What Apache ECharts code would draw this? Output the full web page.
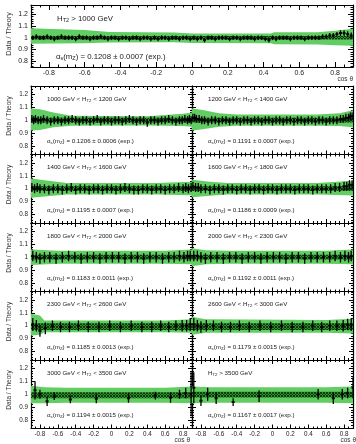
<!DOCTYPE html>
<html>
<head>
<meta charset="utf-8">
<script src="https://cdn.jsdelivr.net/npm/echarts@6/dist/echarts.min.js"></script>
<style>
  html, body { margin: 0; padding: 0; background: #fff; }
  #chart { width: 356px; height: 444px; }
</style>
</head>
<body>
<div id="chart"></div>
<script>
// ---- labels ----
var htLow  = [1000, 1000, 1200, 1400, 1600, 1800, 2000, 2300, 2600, 3000, 3500];
var htHigh = [null, 1200, 1400, 1600, 1800, 2000, 2300, 2600, 3000, 3500, null];
var alphaVal = ['0.1208', '0.1206', '0.1191', '0.1195', '0.1186', '0.1183', '0.1192', '0.1185', '0.1179', '0.1194', '0.1167'];
var alphaErr = ['0.0007', '0.0006', '0.0007', '0.0007', '0.0009', '0.0011', '0.0011', '0.0013', '0.0015', '0.0015', '0.0017'];

// ---- data: bin centres, data/theory ratio, stat error ----
// band nodes are [x, low, high] of the theory uncertainty

// H_T2 > 1000 GeV
var all_x = [-0.89,-0.87,-0.85,-0.83,-0.81,-0.79,-0.77,-0.75,-0.73,-0.71,-0.69,-0.67,-0.65,-0.63,-0.61,-0.59,-0.57,-0.55,-0.53,-0.51,
  -0.49,-0.47,-0.45,-0.43,-0.41,-0.39,-0.37,-0.35,-0.33,-0.31,-0.29,-0.27,-0.25,-0.23,-0.21,-0.19,-0.17,-0.15,-0.13,-0.11,
  -0.09,-0.07,-0.05,-0.03,-0.01,0.01,0.03,0.05,0.07,0.09,0.11,0.13,0.15,0.17,0.19,0.21,0.23,0.25,0.27,0.29,
  0.31,0.33,0.35,0.37,0.39,0.41,0.43,0.45,0.47,0.49,0.51,0.53,0.55,0.57,0.59,0.61,0.63,0.65,0.67,0.69,
  0.71,0.73,0.75,0.77,0.79,0.81,0.83,0.85,0.87,0.89];
var all_y = [1.00,1.01,1.00,1.00,1.01,1.00,0.99,1.00,1.01,1.00, 1.00,1.00,0.99,1.01,1.00,1.00,0.99,1.00,1.00,1.01,
  1.00,0.99,1.00,1.00,0.99,1.00,1.00,0.99,1.00,1.00, 0.99,1.00,1.00,0.99,1.00,0.99,1.00,1.00,0.99,1.00,
  1.00,0.99,1.00,1.00,0.99,1.00,0.99,1.00,0.98,1.00, 1.00,0.99,1.00,1.00,1.00,0.99,1.00,1.00,0.99,1.00,
  1.00,1.00,0.99,1.00,1.00,0.99,0.98,1.00,0.99,1.00, 1.00,1.00,0.99,1.00,1.00,1.00,0.99,1.00,1.00,1.00,
  1.00,1.01,1.01,1.02,1.02,1.03,1.04,1.04,1.03,1.02];
var all_err = [0.02,0.02,0.02,0.02,0.02,0.02,0.02,0.02,0.02,0.02, 0.02,0.02,0.02,0.02,0.02,0.02,0.02,0.02,0.02,0.02,
  0.02,0.02,0.02,0.02,0.02,0.02,0.02,0.02,0.02,0.02, 0.02,0.02,0.02,0.02,0.02,0.02,0.02,0.02,0.02,0.02,
  0.02,0.02,0.02,0.02,0.02,0.02,0.02,0.02,0.02,0.02, 0.02,0.02,0.02,0.02,0.02,0.02,0.02,0.02,0.02,0.02,
  0.02,0.02,0.02,0.02,0.02,0.02,0.02,0.02,0.02,0.02, 0.02,0.02,0.02,0.02,0.02,0.02,0.02,0.02,0.02,0.02,
  0.02,0.02,0.02,0.02,0.02,0.02,0.025,0.025,0.025,0.025];
var all_band = [[-0.9,0.949,1.082],[-0.78,0.95,1.075],[-0.6,0.952,1.066],[-0.46,0.96,1.05],[-0.1,0.962,1.045],[0.0,0.955,1.036],
  [0.44,0.954,1.036],[0.46,0.945,1.046],[0.7,0.942,1.048],[0.8,0.936,1.06],[0.9,0.932,1.077]];
var all_hatch = [[-0.9,0.985,1.015],[0.9,0.985,1.015]];

// 1000 < H_T2 < 1200
var r1_x = [-0.89,-0.87,-0.85,-0.82,-0.79,-0.76,-0.72,-0.68,-0.64,-0.60,-0.56,-0.52,-0.48,-0.44,-0.40,-0.36,-0.32,-0.28,-0.24,-0.20,-0.16,-0.12,-0.08,-0.04,
  0.00,0.04,0.08,0.12,0.16,0.20,0.24,0.28,0.32,0.36,0.40,0.44,0.48,0.52,0.56,0.60,0.64,0.68,0.72,0.76,0.79,0.82,0.85,0.87,0.89];
var h1_y = [1.01,1.00,1.01,1.00,1.00,1.01,1.00,0.99,1.00,1.00,0.99,1.00,1.00,1.01,1.00,0.99,1.00,1.00,0.99,1.00,1.01,0.99,1.00,1.00,
  0.99,1.00,1.00,0.99,1.00,1.01,1.00,0.99,1.00,1.00,0.98,1.00,1.00,0.99,1.00,1.00,1.01,1.00,0.99,1.00,1.00,1.01,1.00,1.01,1.00];
var h1_err = [0.03,0.03,0.03,0.03,0.03,0.03,0.03,0.03,0.03,0.03,0.03,0.03,0.03,0.03,0.03,0.03,0.03,0.03,0.03,0.03,0.03,0.03,0.03,0.03,
  0.03,0.03,0.03,0.03,0.03,0.03,0.03,0.03,0.03,0.03,0.03,0.03,0.03,0.03,0.03,0.03,0.03,0.03,0.03,0.03,0.03,0.03,0.03,0.03,0.03];
var h1_band = [[-0.9,0.92,1.09],[-0.8,0.925,1.085],[-0.65,0.945,1.06],[-0.45,0.958,1.035],[0.4,0.96,1.03],[0.6,0.958,1.04],[0.8,0.955,1.05],[0.9,0.95,1.06]];
// 1200 < H_T2 < 1400
var h2_y = [1.02,1.02,1.01,1.01,1.00,1.00,0.99,1.00,1.00,0.99,1.00,1.00,0.99,1.00,1.00,0.99,1.00,1.00,0.99,1.00,1.00,0.99,1.00,1.00,
  0.99,1.00,1.00,0.99,1.00,1.00,0.99,1.00,1.00,0.99,1.00,1.00,0.99,1.00,1.00,0.99,1.00,1.00,1.00,1.01,1.01,1.02,1.02,1.03,1.03];
var h2_band = [[-0.9,0.92,1.09],[-0.78,0.93,1.08],[-0.6,0.95,1.055],[-0.4,0.958,1.045],[0.5,0.958,1.045],[0.75,0.955,1.055],[0.9,0.945,1.077]];

// 1400 < H_T2 < 1600 and 1600 < H_T2 < 1800
var r2_x = [-0.89,-0.86,-0.83,-0.80,-0.75,-0.70,-0.65,-0.60,-0.55,-0.50,-0.45,-0.40,-0.35,-0.30,-0.25,-0.20,-0.15,-0.10,-0.05,
  0.00,0.05,0.10,0.15,0.20,0.25,0.30,0.35,0.40,0.45,0.50,0.55,0.60,0.65,0.70,0.75,0.80,0.83,0.86,0.89];
var h3_y = [1.01,1.00,1.01,1.00,1.00,0.99,1.00,1.00,0.99,1.00,1.01,0.99,1.00,1.00,0.99,1.00,1.00,0.99,1.00,
  1.00,0.99,1.00,1.01,1.00,0.99,0.99,1.00,1.00,0.99,1.00,1.00,0.99,1.00,1.00,1.01,1.00,1.01,1.00,1.01];
var h4_y = [1.02,1.01,1.01,1.00,1.00,0.99,1.00,1.00,0.99,1.00,1.00,0.99,1.00,1.00,0.99,1.00,1.00,0.99,1.00,
  1.00,0.99,1.00,1.00,1.00,0.99,1.00,1.00,1.00,0.99,1.00,1.00,1.00,1.00,1.01,1.01,1.02,1.02,1.03,1.03];
var r2_err = [0.035,0.035,0.035,0.035,0.035,0.035,0.035,0.035,0.035,0.035,0.035,0.035,0.035,0.035,0.035,0.035,0.035,0.035,0.035,
  0.035,0.035,0.035,0.035,0.035,0.035,0.035,0.035,0.035,0.035,0.035,0.035,0.035,0.035,0.035,0.035,0.035,0.035,0.035,0.035];
var h3_band = [[-0.9,0.93,1.08],[-0.75,0.94,1.065],[-0.5,0.955,1.045],[0.5,0.955,1.045],[0.9,0.95,1.055]];
var h4_band = [[-0.9,0.935,1.07],[-0.7,0.945,1.055],[-0.5,0.955,1.045],[0.5,0.955,1.045],[0.9,0.948,1.062]];

// 1800 < H_T2 < 2000 and 2000 < H_T2 < 2300
var r3_x = [-0.88,-0.84,-0.80,-0.75,-0.69,-0.62,-0.55,-0.48,-0.41,-0.34,-0.27,-0.20,-0.13,-0.06,
  0.01,0.08,0.15,0.22,0.29,0.36,0.43,0.50,0.57,0.64,0.70,0.76,0.81,0.85,0.88];
var h5_y = [1.01,1.00,0.99,1.00,1.00,0.99,1.00,1.01,1.00,0.99,1.00,1.00,0.99,1.00,
  1.00,1.00,0.99,1.00,1.00,0.99,1.00,1.00,0.99,1.00,1.00,1.01,1.00,1.01,1.01];
var h6_y = [1.01,1.01,1.00,0.99,1.00,1.00,0.99,1.00,1.00,0.99,1.00,1.00,0.99,1.00,
  1.00,1.00,0.99,1.00,1.00,0.99,1.00,1.00,1.00,1.00,1.01,1.00,1.01,1.00,1.01];
var r3_err = [0.04,0.04,0.04,0.04,0.04,0.04,0.04,0.04,0.04,0.04,0.04,0.04,0.04,0.04,
  0.04,0.04,0.04,0.04,0.04,0.04,0.04,0.04,0.04,0.04,0.04,0.04,0.04,0.04,0.04];
var h5_band = [[-0.9,0.94,1.06],[-0.6,0.95,1.05],[0.6,0.95,1.05],[0.9,0.945,1.06]];
var h6_band = [[-0.9,0.93,1.07],[-0.75,0.945,1.055],[-0.5,0.95,1.05],[0.6,0.95,1.05],[0.9,0.945,1.06]];

// 2300 < H_T2 < 2600 and 2600 < H_T2 < 3000
var r4_x = [-0.88,-0.84,-0.80,-0.74,-0.66,-0.57,-0.47,-0.37,-0.26,-0.14,-0.02,0.10,0.22,0.34,0.45,0.55,0.64,0.72,0.79,0.84,0.88];
var h7_y = [1.01,1.00,0.96,0.98,1.00,0.99,0.99,1.00,0.99,0.99,1.00,0.99,1.00,0.99,0.99,1.00,0.99,1.00,1.00,1.00,1.01];
var h8_y = [1.01,1.00,0.99,1.00,1.00,0.99,0.99,1.00,0.99,1.00,0.99,1.00,0.99,0.99,1.00,0.99,1.00,1.00,1.00,1.01,1.01];
var r4_err = [0.05,0.045,0.045,0.045,0.04,0.04,0.04,0.04,0.04,0.04,0.04,0.04,0.04,0.04,0.04,0.04,0.04,0.04,0.045,0.045,0.05];
var h7_band = [[-0.9,0.924,1.092],[-0.8,0.93,1.08],[-0.75,0.95,1.04],[0.6,0.95,1.04],[0.9,0.945,1.05]];
var h8_band = [[-0.9,0.93,1.07],[-0.75,0.945,1.05],[0.6,0.945,1.045],[0.9,0.94,1.055]];
var r4_hatch = [[-0.9,0.968,1.019],[0.9,0.968,1.019]];

// 3000 < H_T2 < 3500
var h9_x = [-0.855,-0.80,-0.72,-0.64,-0.46,-0.17,0.19,0.49,0.66,0.76,0.83,0.89];
var h9_y = [1.03,1.00,0.945,0.985,0.96,0.965,0.97,0.99,0.975,1.00,1.01,1.00];
var h9_err = [0.07,0.035,0.035,0.03,0.03,0.035,0.035,0.03,0.04,0.035,0.04,0.17];
var h9_band = [[-0.9,0.93,1.065],[-0.75,0.93,1.055],[-0.5,0.935,1.05],[0.6,0.935,1.05],[0.9,0.93,1.06]];
var h9_hatch = [[-0.9,0.97,1.015],[0.9,0.97,1.015]];
// H_T2 > 3500
var h10_x = [-0.88,-0.80,-0.725,-0.63,-0.44,-0.15,0.51,0.68,0.78,0.84,0.90];
var h10_y = [1.05,0.95,1.00,0.97,0.94,0.985,1.00,0.97,1.00,1.01,1.05];
var h10_err = [0.12,0.04,0.05,0.045,0.03,0.045,0.04,0.045,0.04,0.04,0.08];
var h10_band = [[-0.9,0.93,1.06],[-0.7,0.935,1.055],[0.6,0.935,1.055],[0.9,0.93,1.06]];
var h10_hatch = [[-0.9,0.975,1.02],[0.9,0.975,1.02]];
var lowHatch = [[-0.9,0.982,1.02],[0.9,0.982,1.02]];

var panels = [
  { x: all_x, y: all_y, err: all_err, band: all_band, hatch: all_hatch },
  { x: r1_x, y: h1_y, err: h1_err, band: h1_band, hatch: lowHatch },
  { x: r1_x, y: h2_y, err: h1_err, band: h2_band, hatch: lowHatch },
  { x: r2_x, y: h3_y, err: r2_err, band: h3_band, hatch: lowHatch },
  { x: r2_x, y: h4_y, err: r2_err, band: h4_band, hatch: lowHatch },
  { x: r3_x, y: h5_y, err: r3_err, band: h5_band, hatch: lowHatch },
  { x: r3_x, y: h6_y, err: r3_err, band: h6_band, hatch: lowHatch },
  { x: r4_x, y: h7_y, err: r4_err, band: h7_band, hatch: r4_hatch },
  { x: r4_x, y: h8_y, err: r4_err, band: h8_band, hatch: r4_hatch },
  { x: h9_x, y: h9_y, err: h9_err, band: h9_band, hatch: h9_hatch },
  { x: h10_x, y: h10_y, err: h10_err, band: h10_band, hatch: h10_hatch }
];

// ---- styling ----
var FONT = '"Liberation Sans", Arial, Helvetica, sans-serif';
var GREEN = '#62cd62';

// cross hatch for the inner band
var hatchCanvas = document.createElement('canvas');
hatchCanvas.width = 3; hatchCanvas.height = 3;
var hc = hatchCanvas.getContext('2d');
hc.fillStyle = '#2f8f2f';
hc.fillRect(0, 0, 3, 3);
hc.fillStyle = '#0b3d0b';
hc.fillRect(0, 0, 1, 1);
hc.fillRect(1, 1, 1, 1);
hc.fillRect(2, 2, 1, 1);
hc.fillRect(2, 0, 1, 1);
hc.fillRect(0, 2, 1, 1);

// ---- layout ----
var grids = [{ left: 31, top: 5, width: 322, height: 62 }];
for (var r = 0; r < 5; r++) {
  for (var c = 0; c < 2; c++) {
    grids.push({ left: c ? 192 : 31, top: 86 + r * 68.5, width: 161, height: 68.5 });
  }
}

var xAxes = [], yAxes = [], series = [], graphics = [];

// whole band as one polygon: upper edge left->right, lower edge right->left
function bandRender(nodes, fill) {
  return function (params, api) {
    var pts = [];
    nodes.forEach(function (n) { pts.push(api.coord([n[0], n[2]])); });
    for (var k = nodes.length - 1; k >= 0; k--) pts.push(api.coord([nodes[k][0], nodes[k][1]]));
    return { type: 'polygon', shape: { points: pts }, style: { fill: fill } };
  };
}

function pointRender(params, api) {
  var x = api.value(0), y = api.value(1), e = api.value(2);
  var c = api.coord([x, y]);
  var t = api.coord([x, y + e]);
  var b = api.coord([x, y - e]);
  return {
    type: 'group',
    children: [
      { type: 'line', shape: { x1: c[0], y1: t[1], x2: c[0], y2: b[1] }, style: { stroke: '#000', lineWidth: 1.3 } },
      { type: 'rect', shape: { x: c[0] - 1.5, y: c[1] - 1, width: 3, height: 2 }, style: { fill: '#000' } }
    ]
  };
}

grids.forEach(function (g, i) {
  var big = i === 0;
  var fs = big ? 7 : 6.3;
  var showX = i === 0 || i >= 9;
  var showY = i === 0 || i % 2 === 1;
  var ymin = big ? 0.75 : 0.735, ymax = big ? 1.28 : 1.265;
  var tickLen = big ? 5 : 4;

  var axisCommon = {
    gridIndex: i, type: 'value',
    axisLine: { show: true, onZero: false, lineStyle: { color: '#000', width: 1.2 } },
    axisTick: { show: true, inside: true, length: tickLen, lineStyle: { color: '#000', width: 1 } },
    minorTick: { show: true, splitNumber: 4, length: tickLen / 2, lineStyle: { color: '#000', width: 1 } },
    splitLine: { show: false }
  };

  xAxes.push(Object.assign({}, axisCommon, {
    position: 'bottom', min: -0.9, max: 0.9, splitNumber: 9,
    axisLabel: {
      show: showX, fontFamily: FONT, fontSize: fs, color: '#222', margin: 3,
      showMinLabel: false, showMaxLabel: false,
      formatter: function (v) { return Math.abs(v) > 0.85 ? '' : +v.toFixed(1) + ''; }
    }
  }));
  xAxes.push(Object.assign({}, axisCommon, {
    position: 'top', min: -0.9, max: 0.9, splitNumber: 9, axisLabel: { show: false }
  }));
  yAxes.push(Object.assign({}, axisCommon, {
    position: 'left', min: ymin, max: ymax, splitNumber: 5,
    minorTick: { show: true, splitNumber: 5, length: tickLen / 2, lineStyle: { color: '#000', width: 1 } },
    axisLabel: {
      show: showY, fontFamily: FONT, fontSize: fs, color: '#222', margin: 3,
      showMinLabel: false, showMaxLabel: false,
      formatter: function (v) { return (v < 0.79 || v > 1.21) ? '' : +v.toFixed(1) + ''; }
    }
  }));
  yAxes.push(Object.assign({}, axisCommon, {
    position: 'right', min: ymin, max: ymax, splitNumber: 5,
    minorTick: { show: true, splitNumber: 5, length: tickLen / 2, lineStyle: { color: '#000', width: 1 } },
    axisLabel: { show: false }
  }));

  var p = panels[i];
  var pts = p.x.map(function (xv, k) { return [xv, p.y[k], p.err[k]]; });
  series.push({
    type: 'custom', xAxisIndex: 2 * i, yAxisIndex: 2 * i, clip: true, silent: true,
    renderItem: bandRender(p.band, GREEN), data: [p.band[0]], z: 1
  });
  series.push({
    type: 'custom', xAxisIndex: 2 * i, yAxisIndex: 2 * i, clip: true, silent: true,
    renderItem: bandRender(p.hatch, { image: hatchCanvas, repeat: 'repeat' }), data: [p.hatch[0]], z: 2
  });
  series.push({
    type: 'custom', xAxisIndex: 2 * i, yAxisIndex: 2 * i, clip: true, silent: true,
    renderItem: pointRender, data: pts, z: 3
  });

  // panel texts
  var tx = g.left + (big ? 26 : 16);
  var title = htHigh[i] === null
    ? 'H{s|T2} > ' + htLow[i] + ' GeV'
    : htLow[i] + ' GeV < H{s|T2} < ' + htHigh[i] + ' GeV';
  var tfs = big ? 7.8 : 6.2;
  var rich = { s: { fontSize: tfs * 0.7, fontFamily: FONT, fill: '#222', padding: [3, 0, 0, 0] } };
  graphics.push({
    type: 'text', x: tx, y: g.top + (big ? 14 : 13), z: 10,
    style: { text: title, fontFamily: FONT, fontSize: tfs, fill: '#222', verticalAlign: 'middle', rich: rich }
  });
  graphics.push({
    type: 'text', x: tx - (big ? 1 : 0), y: g.top + (big ? 52 : 55.5), z: 10,
    style: {
      text: 'α{s|s}(m{s|Z}) = ' + alphaVal[i] + ' ± ' + alphaErr[i] + ' (exp.)',
      fontFamily: FONT, fontSize: tfs, fill: '#222', verticalAlign: 'middle', rich: rich
    }
  });
  if (showY) {
    graphics.push({
      type: 'text', x: 9, y: g.top + (big ? 29 : 30), rotation: Math.PI / 2, z: 10,
      style: { text: 'Data / Theory', fontFamily: FONT, fontSize: big ? 7.2 : 6.5, fill: '#333', align: 'center', verticalAlign: 'middle' }
    });
  }
});

// axis titles
graphics.push({ type: 'text', x: 353, y: 79, z: 10,
  style: { text: 'cos θ', fontFamily: FONT, fontSize: 6.5, fill: '#333', align: 'right', verticalAlign: 'middle' } });
graphics.push({ type: 'text', x: 190, y: 440, z: 10,
  style: { text: 'cos θ', fontFamily: FONT, fontSize: 6.5, fill: '#333', align: 'right', verticalAlign: 'middle' } });
graphics.push({ type: 'text', x: 356, y: 440, z: 10,
  style: { text: 'cos θ', fontFamily: FONT, fontSize: 6.5, fill: '#333', align: 'right', verticalAlign: 'middle' } });

var chart = echarts.init(document.getElementById('chart'), null, { renderer: 'canvas' });
chart.setOption({
  animation: false,
  backgroundColor: '#fff',
  grid: grids,
  xAxis: xAxes,
  yAxis: yAxes,
  series: series,
  graphic: graphics
});
</script>
</body>
</html>
